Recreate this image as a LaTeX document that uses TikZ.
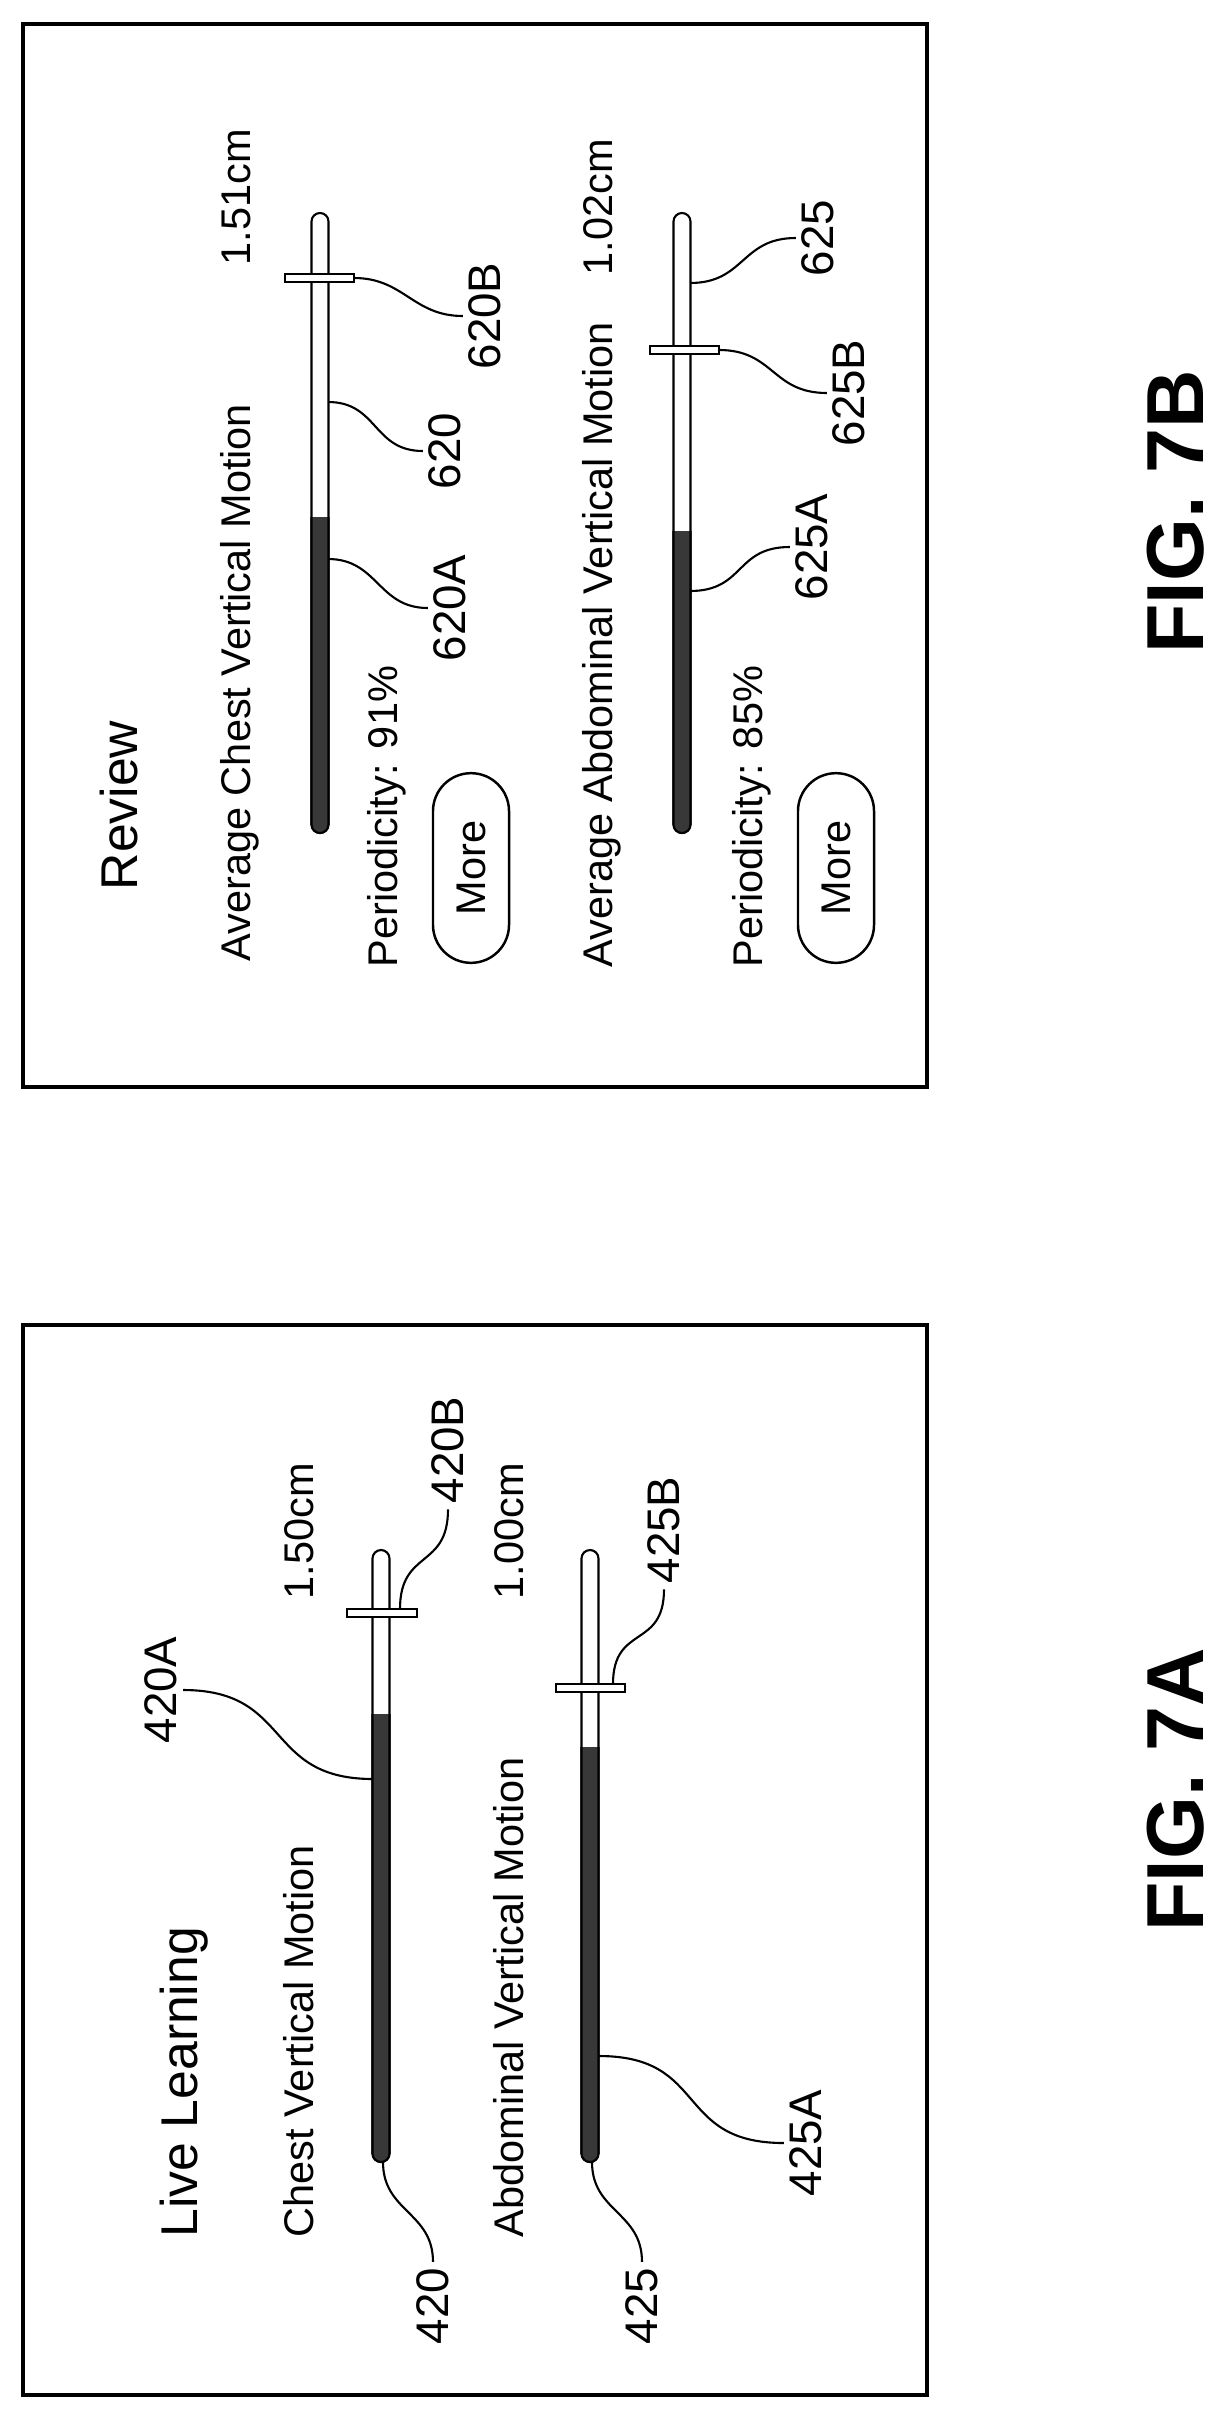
\documentclass[tikz,border=0pt]{standalone}
\usepackage{fontspec}
\setmainfont{Liberation Sans}
\usetikzlibrary{shapes.misc}

\definecolor{barfill}{gray}{0.22}

% x, top, start of dark part, bottom
\newcommand{\gaugebar}[4]{%
  \draw[bar line,fill=white,rounded corners=0.085cm] (#1-8.5,#2) rectangle (#1+8.5,#4);
  \begin{scope}
    \clip (#1-12,#3) rectangle (#1+12,#4+5);
    \draw[bar line,fill=barfill,rounded corners=0.085cm] (#1-8.5,#2) rectangle (#1+8.5,#4);
  \end{scope}}
% x left, x right, y
\newcommand{\slider}[3]{%
  \draw[bar line,fill=white] (#1,#3-4) rectangle (#2,#3+4);}

\begin{document}
\begin{tikzpicture}[x=0.01cm,y=-0.01cm,
    txt/.style={rotate=90,anchor=base west,inner sep=0pt,font=\fontsize{11.8}{14}\selectfont},
    title/.style={txt,font=\fontsize{14.7}{17}\selectfont},
    ref/.style={rotate=90,inner sep=1.5pt,font=\fontsize{13}{15}\selectfont},
    fig/.style={rotate=90,anchor=base,inner sep=0pt,font=\fontsize{23}{27}\selectfont\bfseries},
    more/.style={rotate=90,draw,line width=0.7pt,rounded rectangle,minimum width=2.13cm,
                 minimum height=0.76cm,font=\fontsize{11.8}{14}\selectfont},
    frame/.style={line width=1pt},
    bar line/.style={line width=0.6pt},
    leader/.style={line width=0.6pt}]

  \useasboundingbox (0,0) rectangle (1224,2418);

  % FIG. 7B
  \draw[frame] (23,24) rectangle (927,1087);
  \node[title] (review) at (137,891) {Review};
  \node[txt] (chest) at (250,962) {Average Chest Vertical Motion};
  \node[txt] (val1) at (250,266) {1.51cm};
  \node[txt] (per1) at (397,968) {Periodicity: 91\%};
  \node[more] (more1) at (471,868) {More};
  \node[txt] (abd) at (612,968) {Average Abdominal Vertical Motion};
  \node[txt] (val2) at (612,276) {1.02cm};
  \node[txt] (per2) at (762,968) {Periodicity: 85\%};
  \node[more] (more2) at (836,868) {More};

  \gaugebar{320}{213}{517}{833}
  \gaugebar{682}{213}{531}{833}
  \slider{285}{354}{278}
  \slider{650}{719}{350}

  \coordinate (p620B) at (354,278);
  \coordinate (p620) at (328,402);
  \coordinate (p620A) at (328,559);
  \coordinate (p625) at (690,283);
  \coordinate (p625B) at (719,350);
  \coordinate (p625A) at (690,591);

  \node[ref] (l620B) at (485,316) {620B};
  \node[ref] (l620) at (445,451) {620};
  \node[ref] (l620A) at (450,608) {620A};
  \node[ref] (l625) at (818,238) {625};
  \node[ref] (l625B) at (849,393) {625B};
  \node[ref] (l625A) at (812,547) {625A};

  \draw[leader] (p620B) .. controls +(50,0) and +(-50,0) .. (l620B.north);
  \draw[leader] (p620) .. controls +(50,0) and +(-50,0) .. (l620.north);
  \draw[leader] (p620A) .. controls +(50,0) and +(-50,0) .. (l620A.north);
  \draw[leader] (p625) .. controls +(55,0) and +(-55,0) .. (l625.north);
  \draw[leader] (p625B) .. controls +(55,0) and +(-55,0) .. (l625B.north);
  \draw[leader] (p625A) .. controls +(55,0) and +(-55,0) .. (l625A.north);

  \node[fig] (fig7b) at (1203,512) {FIG. 7B};

  % FIG. 7A
  \draw[frame] (23,1325) rectangle (927,2395);
  \node[title] (live) at (197,2238) {Live Learning};
  \node[txt] (chestlive) at (313,2238) {Chest Vertical Motion};
  \node[txt] (val3) at (313,1600) {1.50cm};
  \node[txt] (abdlive) at (523,2238) {Abdominal Vertical Motion};
  \node[txt] (val4) at (523,1600) {1.00cm};

  \gaugebar{381}{1550}{1714}{2162}
  \gaugebar{590}{1550}{1747}{2162}
  \slider{347}{417}{1613}
  \slider{556}{625}{1688}

  \coordinate (p420A) at (373,1779);
  \coordinate (p420B) at (400,1609);
  \coordinate (p420) at (383,2162);
  \coordinate (p425A) at (599,2056);
  \coordinate (p425B) at (613,1684);
  \coordinate (p425) at (592,2162);

  \node[ref] (l420A) at (161,1690) {420A};
  \node[ref] (l420B) at (448,1450) {420B};
  \node[ref] (l420) at (433,2306) {420};
  \node[ref] (l425A) at (806,2143) {425A};
  \node[ref] (l425B) at (664,1530) {425B};
  \node[ref] (l425) at (642,2306) {425};

  \draw[leader] (l420A.south) .. controls +(110,0) and +(-110,0) .. (p420A);
  \draw[leader] (p420B) .. controls +(0,-60) and +(0,60) .. (l420B.west);
  \draw[leader] (p420) .. controls +(0,50) and +(0,-50) .. (l420.east);
  \draw[leader] (p425A) .. controls +(110,0) and +(-110,0) .. (l425A.north);
  \draw[leader] (p425B) .. controls +(0,-60) and +(0,60) .. (l425B.west);
  \draw[leader] (p425) .. controls +(0,50) and +(0,-50) .. (l425.east);

  \node[fig] (fig7a) at (1203,1790) {FIG. 7A};
\end{tikzpicture}
\end{document}
